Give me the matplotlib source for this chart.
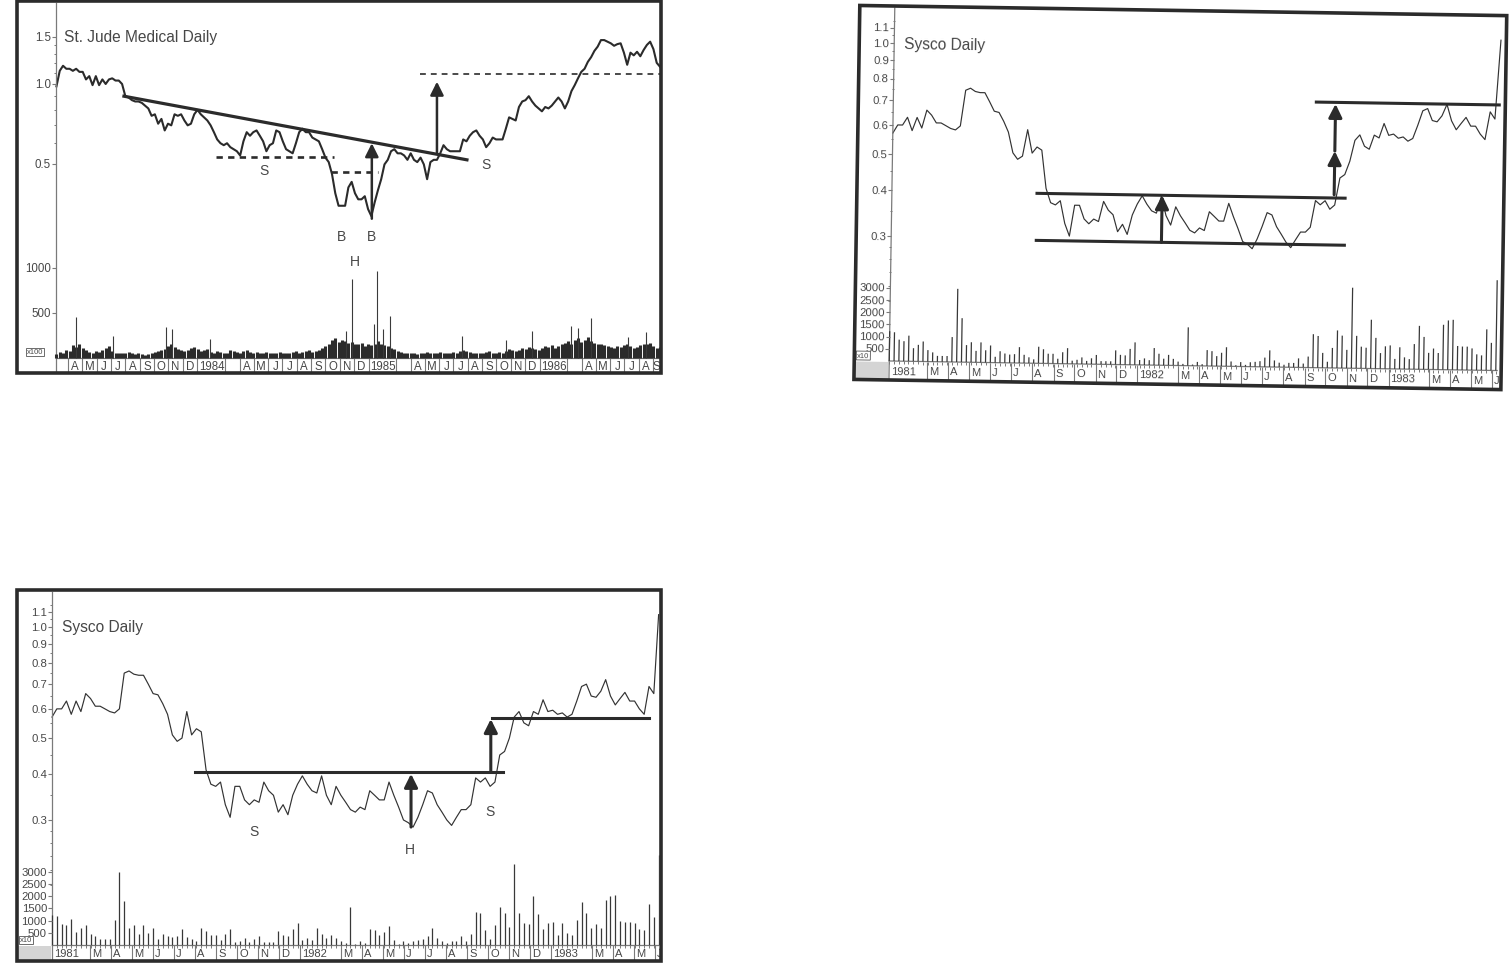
import pandas as pd
import matplotlib
matplotlib.use('Agg')
import matplotlib.pyplot as plt
import matplotlib.dates as mdates
from matplotlib.markers import TICKLEFT, TICKDOWN
from matplotlib.patches import Rectangle
from matplotlib.transforms import Affine2D

W, H = 1509, 979
INK = '#2b2b2b'
TXT = '#474747'
AXC = '#7a7a7a'
plt.rcParams['font.family'] = ['Liberation Sans', 'DejaVu Sans']

# ---------- St. Jude Medical: weekly closes and volume (x100) ----------
stj_start = '1983-03-07'
stj_close = [0.98, 1.12, 1.17, 1.14, 1.14, 1.12, 1.14, 1.11, 1.11, 1.04,
             1.07, 0.99, 1.07, 0.99, 1.04, 1.00, 1.04, 1.05, 1.03, 1.03,
             1.00, 0.90, 0.89, 0.87, 0.86, 0.86, 0.85, 0.83, 0.81, 0.76,
             0.77, 0.71, 0.74, 0.67, 0.71, 0.70, 0.77, 0.76, 0.77, 0.73,
             0.70, 0.71, 0.77, 0.80, 0.77, 0.75, 0.73, 0.70, 0.66, 0.62,
             0.60, 0.59, 0.60, 0.58, 0.57, 0.56, 0.54, 0.61, 0.66, 0.64,
             0.66, 0.67, 0.64, 0.61, 0.56, 0.59, 0.60, 0.67, 0.66, 0.61,
             0.57, 0.56, 0.55, 0.60, 0.66, 0.68, 0.66, 0.66, 0.63, 0.62,
             0.61, 0.57, 0.53, 0.51, 0.46, 0.39, 0.35, 0.35, 0.35, 0.41,
             0.43, 0.39, 0.37, 0.37, 0.38, 0.34, 0.32, 0.36, 0.40, 0.44,
             0.50, 0.52, 0.56, 0.57, 0.55, 0.55, 0.54, 0.52, 0.55, 0.52,
             0.51, 0.53, 0.50, 0.44, 0.51, 0.52, 0.52, 0.55, 0.59, 0.57,
             0.56, 0.56, 0.56, 0.56, 0.62, 0.61, 0.64, 0.66, 0.67, 0.64,
             0.62, 0.58, 0.60, 0.63, 0.62, 0.62, 0.62, 0.68, 0.75, 0.74,
             0.73, 0.82, 0.86, 0.87, 0.90, 0.86, 0.83, 0.81, 0.79, 0.82,
             0.81, 0.83, 0.86, 0.89, 0.86, 0.81, 0.86, 0.94, 0.99, 1.05,
             1.11, 1.14, 1.21, 1.26, 1.33, 1.38, 1.46, 1.46, 1.44, 1.42,
             1.39, 1.41, 1.42, 1.31, 1.18, 1.31, 1.28, 1.32, 1.27, 1.34,
             1.40, 1.44, 1.35, 1.20, 1.16]
stj_volume = [40, 70, 60, 90, 80, 140, 120, 150, 110, 90,
              70, 60, 80, 70, 90, 110, 130, 80, 60, 50,
              60, 50, 70, 60, 40, 50, 40, 30, 40, 60,
              70, 80, 90, 100, 130, 150, 120, 100, 90, 80,
              90, 110, 120, 100, 80, 90, 100, 70, 60, 80,
              70, 50, 60, 90, 80, 70, 60, 80, 90, 70,
              60, 70, 60, 50, 70, 60, 50, 60, 70, 60,
              50, 60, 70, 80, 60, 70, 80, 90, 70, 80,
              90, 110, 130, 150, 200, 220, 180, 200, 190, 170,
              180, 160, 150, 170, 130, 150, 140, 160, 190, 150,
              140, 130, 110, 100, 80, 70, 60, 50, 60, 50,
              40, 50, 60, 70, 60, 50, 60, 70, 60, 50,
              60, 70, 60, 80, 90, 80, 70, 60, 50, 60,
              60, 70, 80, 60, 50, 70, 60, 80, 100, 90,
              80, 90, 110, 100, 120, 110, 100, 90, 110, 130,
              120, 140, 110, 130, 150, 170, 190, 160, 200, 220,
              180, 200, 230, 190, 170, 150, 160, 140, 130, 120,
              110, 130, 120, 140, 150, 130, 110, 120, 140, 160,
              150, 170, 130, 110, 120]
stj_spike_dates = ['1983-04-18', '1983-07-06', '1983-10-27', '1983-11-09', '1984-01-29',
                   '1984-11-14', '1984-11-27', '1985-01-13', '1985-01-19', '1985-02-01',
                   '1985-02-16', '1985-07-20', '1985-10-22', '1985-12-16', '1986-03-09',
                   '1986-03-24', '1986-04-21', '1986-07-08', '1986-08-16']
stj_spike_volume = [455, 245, 345, 320, 210, 300, 880, 380, 965, 320,
                    465, 245, 200, 300, 355, 330, 445, 230, 290]
stj_price_ticks = [0.5, 1.0, 1.5]
stj_price_minor = [0.6, 0.7, 0.8, 0.9, 1.1, 1.2, 1.3, 1.4]
stj_volume_ticks = [500, 1000]

stj_trend = (['1983-07-29', '1985-07-30'], [0.90, 0.52])
stj_levels = [('1984-02-10', '1984-10-19', 0.533), ('1984-10-13', '1985-01-21', 0.468)]
stj_target = ('1985-04-21', '1986-09-15', 1.09)
stj_arrows = [('1985-01-08', 0.313, 0.60), ('1985-05-27', 0.55, 1.02)]
stj_marks = [('S', '1984-05-23', 0.477), ('S', '1985-09-09', 0.502),
             ('B', '1984-11-05', 0.27), ('B', '1985-01-08', 0.27), ('H', '1984-12-03', 0.217)]

# ---------- Sysco: weekly closes and volume (x10) ----------
sysco_start = '1981-01-05'
sysco_close = [0.57, 0.60, 0.60, 0.63, 0.58, 0.63, 0.59, 0.66, 0.64, 0.61,
               0.61, 0.60, 0.59, 0.585, 0.60, 0.75, 0.76, 0.745, 0.74, 0.74,
               0.70, 0.66, 0.655, 0.62, 0.58, 0.51, 0.49, 0.50, 0.59, 0.51,
               0.53, 0.52, 0.41, 0.375, 0.37, 0.38, 0.33, 0.305, 0.37, 0.37,
               0.34, 0.33, 0.34, 0.335, 0.38, 0.36, 0.35, 0.315, 0.33, 0.31,
               0.35, 0.375, 0.395, 0.375, 0.36, 0.355, 0.395, 0.35, 0.33, 0.37,
               0.35, 0.335, 0.32, 0.315, 0.325, 0.32, 0.36, 0.35, 0.34, 0.34,
               0.38, 0.35, 0.325, 0.30, 0.295, 0.287, 0.305, 0.33, 0.36, 0.355,
               0.33, 0.315, 0.30, 0.29, 0.305, 0.32, 0.32, 0.33, 0.39, 0.38,
               0.39, 0.37, 0.38, 0.45, 0.46, 0.50, 0.57, 0.59, 0.55, 0.54,
               0.59, 0.58, 0.635, 0.59, 0.595, 0.58, 0.585, 0.57, 0.58, 0.63,
               0.69, 0.70, 0.65, 0.645, 0.67, 0.72, 0.65, 0.615, 0.64, 0.665,
               0.63, 0.63, 0.60, 0.58, 0.69, 0.66, 1.08]
sysco_volume = [1220, 1180, 880, 820, 1050, 540, 680, 820, 470, 380,
                240, 240, 240, 1020, 3000, 1800, 700, 820, 470, 820,
                500, 700, 240, 470, 380, 340, 360, 650, 340, 240,
                160, 680, 580, 400, 400, 200, 470, 640, 130, 170,
                270, 130, 240, 380, 130, 130, 130, 580, 400, 380,
                650, 920, 200, 270, 200, 700, 470, 270, 430, 270,
                160, 70, 1570, 50, 160, 70, 650, 610, 410, 550,
                780, 200, 50, 180, 70, 180, 200, 230, 380, 680,
                270, 180, 100, 180, 180, 370, 160, 450, 1370, 1300,
                610, 250, 820, 1540, 1330, 750, 3300, 1330, 890, 850,
                2000, 1260, 640, 920, 960, 410, 890, 480, 410, 1030,
                1780, 1330, 680, 860, 680, 1840, 2020, 2050, 980, 960,
                960, 890, 650, 610, 1680, 1130, 3700]
sysco_price_ticks = [0.3, 0.4, 0.5, 0.6, 0.7, 0.8, 0.9, 1.0, 1.1]
sysco_price_minor = [0.2, 0.22, 0.24, 0.26, 0.28, 0.35, 0.45, 0.55, 0.65, 0.75, 0.85, 0.95, 1.05, 1.15]
sysco_volume_ticks = [500, 1000, 1500, 2000, 2500, 3000]

sysco_hs_lines = [('1981-08-01', '1982-10-23', 0.405), ('1982-10-07', '1983-05-23', 0.566)]
sysco_hs_arrows = [('1982-06-11', 0.287, 0.40), ('1982-10-05', 0.405, 0.563)]
sysco_hs_marks = [('S', '1981-10-26', 0.28), ('H', '1982-06-10', 0.25), ('S', '1982-10-04', 0.317)]
sysco_box_lines = [('1981-08-04', '1982-10-26', 0.397), ('1981-08-04', '1982-10-26', 0.296),
                   ('1982-09-12', '1983-06-05', 0.721)]
sysco_box_arrows = [('1982-02-02', 0.296, 0.397), ('1982-10-10', 0.405, 0.532), ('1982-10-10', 0.532, 0.714)]

month_letters = ['J', 'F', 'M', 'A', 'M', 'J', 'J', 'A', 'S', 'O', 'N', 'D']


def num(s):
    return mdates.date2num(pd.Timestamp(s))


fig = plt.figure(figsize=(W / 100, H / 100), dpi=100)


def panel(left, top, right, bottom, xlim, plim, vtop, rot=0.0, pivot=(0, 0)):
    rect = [left / W, 1 - bottom / H, (right - left) / W, (bottom - top) / H]
    ax = fig.add_axes(rect)
    vx = fig.add_axes(rect)
    for a in (ax, vx):
        a.set_axis_off()
        a.set_xlim(num(xlim[0]), num(xlim[1]))
    ax.set_yscale('log')
    ax.set_ylim(*plim)
    vx.set_ylim(0, vtop)
    rt = Affine2D().rotate_deg_around(pivot[0], H - pivot[1], -rot)
    return dict(ax=ax, vx=vx, rt=rt, rot=rot, h=bottom - top, left=left, bottom=bottom)


def tr(p, base, dx=0, dy=0):
    return base + Affine2D().translate(dx, -dy) + p['rt']


def pix(p):
    return Affine2D().scale(1, -1).translate(0, H) + p['rt']


def frame(p, left, top, right, bottom):
    p['ax'].add_artist(Rectangle((left, top), right - left, bottom - top, fill=False,
                                 ec=INK, lw=2.6, transform=pix(p), clip_on=False, zorder=10))


def text(p, base, x, y, s, dx=0, dy=0, **kw):
    kw.setdefault('color', TXT)
    p['ax'].text(x, y, s, transform=tr(p, base, dx, dy), rotation=-p['rot'],
                 rotation_mode='anchor', clip_on=False, **kw)


def yaxis(p, row, pticks, plabels, pminor, vticks, size):
    ax, vx = p['ax'], p['vx']
    ax.plot([0, 0], [-row / p['h'], 1], color=AXC, lw=0.9, transform=ax.transAxes + p['rt'], clip_on=False)
    ax.plot([0] * len(pticks), pticks, ls='none', marker=TICKLEFT, ms=3.2, mew=0.8, color=AXC,
            transform=tr(p, ax.get_yaxis_transform()), clip_on=False)
    ax.plot([0] * len(pminor), pminor, ls='none', marker=TICKLEFT, ms=1.8, mew=0.7, color=AXC,
            transform=tr(p, ax.get_yaxis_transform()), clip_on=False)
    vx.plot([0] * len(vticks), vticks, ls='none', marker=TICKLEFT, ms=3.2, mew=0.8, color=AXC,
            transform=tr(p, vx.get_yaxis_transform()), clip_on=False)
    for v, s in zip(pticks, plabels):
        text(p, ax.get_yaxis_transform(), 0, v, s, dx=-5, ha='right', va='center', fontsize=size)
    for v in vticks:
        text(p, vx.get_yaxis_transform(), 0, v, str(v), dx=-5, ha='right', va='center', fontsize=size)


def month_row(p, first, last, row, centered, skip, size):
    ax = p['ax']
    x0, x1 = ax.get_xlim()
    base = ax.get_xaxis_transform()
    starts = pd.date_range(first, last, freq='MS')
    sep = [num(s) for s in starts if s.month != 2 and x0 <= num(s) <= x1]
    ax.plot([x0, x1], [0, 0], color=AXC, lw=0.9, transform=tr(p, base), clip_on=False)
    ax.plot(sep, [0] * len(sep), ls='none', marker=TICKDOWN, ms=row * 0.72, mew=0.8, color=AXC,
            transform=tr(p, base), clip_on=False)
    for s in starts:
        if s.month in skip:
            continue
        label = str(s.year) if s.month == 1 else month_letters[s.month - 1]
        a = max(num(s), x0)
        b = min(num(s + pd.offsets.MonthBegin(1)), x1)
        if centered:
            xc = num(s + pd.offsets.MonthBegin(1)) if s.month == 1 else (a + b) / 2
            text(p, base, xc, 0, label, dy=row / 2 + 0.5, ha='center', va='center', fontsize=size)
        else:
            text(p, base, a, 0, label, dx=2, dy=row / 2 + 0.5, ha='left', va='center', fontsize=size)


def hline(p, d0, d1, y, **kw):
    p['ax'].plot([num(d0), num(d1)], [y, y], transform=tr(p, p['ax'].transData), clip_on=False, **kw)


def arrow(p, d, y0, y1, lw=1.8):
    t = tr(p, p['ax'].transData)
    p['ax'].annotate('', xy=(num(d), y1), xytext=(num(d), y0), xycoords=t, textcoords=t,
                     annotation_clip=False,
                     arrowprops=dict(arrowstyle='-|>,head_length=0.8,head_width=0.4',
                                     color=INK, lw=lw, shrinkA=0, shrinkB=0))


def tag(p, base, dx, dy, s, size):
    text(p, base, 0, 0, s, dx=dx, dy=dy, ha='center', va='center', fontsize=size,
         bbox=dict(boxstyle='square,pad=0.12', fc='white', ec='#555', lw=0.6))


# ======================= St. Jude Medical Daily =======================
p1 = panel(56, 4, 660, 359, ('1983-03-06', '1986-09-15'), (0.0942, 2.01), 3944)
ax, vx = p1['ax'], p1['vx']
stj_x = mdates.date2num(pd.date_range(stj_start, periods=len(stj_close), freq='7D'))
vx.vlines(stj_x, 0, stj_volume, color=INK, lw=2.2, transform=tr(p1, vx.transData), clip_on=False)
vx.vlines([num(d) for d in stj_spike_dates], 0, stj_spike_volume, color='#3a3a3a', lw=0.8,
          transform=tr(p1, vx.transData), clip_on=False)
ax.plot(stj_x, stj_close, color=INK, lw=1.5, transform=tr(p1, ax.transData), clip_on=False)

ax.plot([num(d) for d in stj_trend[0]], stj_trend[1], color=INK, lw=2.3,
        transform=tr(p1, ax.transData), clip_on=False)
for d0, d1, y in stj_levels:
    hline(p1, d0, d1, y, color=INK, lw=1.9, ls=(0, (2.4, 2.0)))
hline(p1, stj_target[0], stj_target[1], stj_target[2], color=INK, lw=1.2, ls=(0, (3.5, 3.0)))
for d, y0, y1 in stj_arrows:
    arrow(p1, d, y0, y1)
for s, d, y in stj_marks:
    text(p1, ax.transData, num(d), y, s, ha='center', va='center', fontsize=10)
text(p1, ax.get_yaxis_transform(), 0, 1.5, 'St. Jude Medical Daily', dx=8, ha='left', va='center',
     fontsize=11.2)
yaxis(p1, 14, stj_price_ticks, ['0.5', '1.0', '1.5'], stj_price_minor, stj_volume_ticks, 8.3)
month_row(p1, '1983-03-01', '1986-09-01', 14, True, (2, 3), 8.3)
tag(p1, ax.transAxes, -21, -6, 'x100', 5.5)
frame(p1, 16.5, 2, 661, 374)

# ======================= Sysco Daily (two panels) =======================
sysco_x = mdates.date2num(pd.date_range(sysco_start, periods=len(sysco_close), freq='7D'))


def sysco_panel(p, frm, row):
    ax, vx = p['ax'], p['vx']
    l, t, r, b = frm
    ax.add_artist(Rectangle((l + 1, p['bottom'] + 1), p['left'] - l - 2, b - p['bottom'] - 2,
                            fc='#d4d4d4', ec='none', transform=pix(p), clip_on=False))
    vx.vlines(sysco_x, 0, sysco_volume, color='#383838', lw=0.9, transform=tr(p, vx.transData),
              clip_on=False)
    vx.plot(sysco_x, [0] * len(sysco_x), ls='none', marker=TICKDOWN, ms=2.5, mew=0.7, color=AXC,
            transform=tr(p, vx.get_xaxis_transform()), clip_on=False)
    ax.plot(sysco_x, sysco_close, color='#333333', lw=0.85, transform=tr(p, ax.transData), clip_on=False)
    text(p, ax.get_yaxis_transform(), 0, 1.0, 'Sysco Daily', dx=10, ha='left', va='center', fontsize=11.2)
    yaxis(p, row, sysco_price_ticks, ['%.1f' % v for v in sysco_price_ticks], sysco_price_minor,
          sysco_volume_ticks, 8.2)
    month_row(p, '1981-01-01', '1983-06-01', row, False, (2,), 8)
    tag(p, ax.transAxes, -26, -5, 'x10', 5.5)
    frame(p, l, t, r, b)


p3 = panel(52, 593, 660, 946, ('1981-01-05', '1983-06-08'), (0.1375, 1.244), 14466)
sysco_panel(p3, (17, 591, 661, 962), 15)
for d0, d1, y in sysco_hs_lines:
    hline(p3, d0, d1, y, color=INK, lw=2.2)
for d, y0, y1 in sysco_hs_arrows:
    arrow(p3, d, y0, y1, lw=2.2)
for s, d, y in sysco_hs_marks:
    text(p3, p3['ax'].transData, num(d), y, s, ha='center', va='center', fontsize=10)

p2 = panel(892, 9, 1500, 362, ('1981-01-05', '1983-06-08'), (0.1375, 1.244), 14466,
           rot=0.9, pivot=(892, 186))
sysco_panel(p2, (857, 7, 1504, 381), 18)
for d0, d1, y in sysco_box_lines:
    hline(p2, d0, d1, y, color=INK, lw=2.2)
for d, y0, y1 in sysco_box_arrows:
    arrow(p2, d, y0, y1, lw=2.2)

fig.savefig('out.png', dpi=100, facecolor='white')
